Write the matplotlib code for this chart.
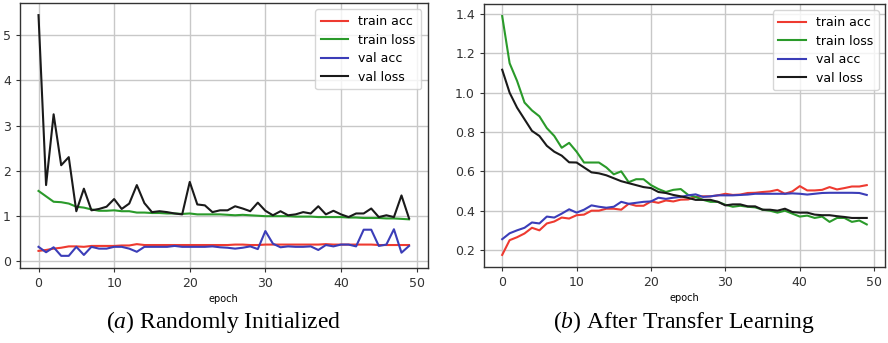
import matplotlib.pyplot as plt
import numpy as np

plt.rcParams['mathtext.fontset'] = 'custom'
plt.rcParams['mathtext.rm'] = 'Liberation Serif'
plt.rcParams['mathtext.it'] = 'Liberation Serif:italic'

## Data : values, one point per epoch (0..49)

epochs = np.arange(50)

# (a) randomly initialized
a_train_acc = [0.22, 0.24, 0.27, 0.29, 0.32, 0.32, 0.31, 0.33, 0.33, 0.33,
               0.33, 0.34, 0.34, 0.37, 0.35, 0.35, 0.35, 0.35, 0.35, 0.35,
               0.35, 0.35, 0.35, 0.35, 0.35, 0.35, 0.36, 0.36, 0.35, 0.35,
               0.36, 0.36, 0.36, 0.36, 0.36, 0.36, 0.36, 0.36, 0.37, 0.36,
               0.36, 0.36, 0.36, 0.36, 0.36, 0.35, 0.35, 0.35, 0.35, 0.35]
a_train_loss = [1.55, 1.43, 1.31, 1.30, 1.27, 1.20, 1.18, 1.14, 1.11, 1.11,
                1.12, 1.10, 1.10, 1.07, 1.07, 1.06, 1.06, 1.05, 1.05, 1.04,
                1.05, 1.03, 1.03, 1.03, 1.03, 1.02, 1.01, 1.02, 1.01, 1.00,
                0.99, 0.99, 0.99, 0.99, 0.98, 0.98, 0.98, 0.97, 0.97, 0.97,
                0.97, 0.96, 0.96, 0.95, 0.95, 0.95, 0.94, 0.94, 0.93, 0.92]
a_val_acc = [0.31, 0.19, 0.30, 0.11, 0.11, 0.31, 0.13, 0.31, 0.27, 0.27,
             0.31, 0.31, 0.27, 0.20, 0.31, 0.31, 0.31, 0.31, 0.33, 0.31,
             0.31, 0.31, 0.31, 0.32, 0.30, 0.29, 0.27, 0.29, 0.32, 0.26,
             0.66, 0.38, 0.30, 0.32, 0.31, 0.31, 0.32, 0.24, 0.35, 0.32,
             0.36, 0.36, 0.32, 0.69, 0.69, 0.33, 0.36, 0.70, 0.18, 0.33]
a_val_loss = [5.45, 1.68, 3.25, 2.12, 2.30, 1.10, 1.60, 1.12, 1.15, 1.20,
              1.37, 1.15, 1.27, 1.68, 1.28, 1.08, 1.10, 1.08, 1.05, 1.03,
              1.75, 1.25, 1.23, 1.08, 1.12, 1.12, 1.21, 1.16, 1.10, 1.29,
              1.11, 1.01, 1.10, 1.01, 1.03, 1.08, 1.05, 1.21, 1.03, 1.11,
              1.03, 0.97, 1.05, 1.05, 1.16, 0.97, 1.01, 0.97, 1.45, 0.94]

# (b) after transfer learning
b_train_acc = [0.175, 0.25, 0.265, 0.284, 0.313, 0.30, 0.335, 0.345, 0.365, 0.36,
               0.377, 0.38, 0.40, 0.40, 0.41, 0.41, 0.405, 0.435, 0.425, 0.425,
               0.447, 0.44, 0.452, 0.447, 0.456, 0.457, 0.47, 0.473, 0.473, 0.478,
               0.486, 0.48, 0.482, 0.49, 0.491, 0.495, 0.498, 0.506, 0.486, 0.498,
               0.525, 0.503, 0.503, 0.506, 0.52, 0.508, 0.515, 0.523, 0.523, 0.53]
b_train_loss = [1.39, 1.15, 1.06, 0.95, 0.91, 0.88, 0.82, 0.78, 0.72, 0.745,
                0.70, 0.645, 0.645, 0.645, 0.62, 0.585, 0.60, 0.545, 0.56, 0.56,
                0.53, 0.51, 0.495, 0.506, 0.51, 0.48, 0.47, 0.455, 0.445, 0.445,
                0.43, 0.42, 0.425, 0.42, 0.417, 0.405, 0.40, 0.39, 0.40, 0.385,
                0.37, 0.375, 0.363, 0.37, 0.343, 0.363, 0.363, 0.343, 0.35, 0.33]
b_val_acc = [0.255, 0.285, 0.30, 0.313, 0.34, 0.335, 0.37, 0.365, 0.385, 0.407,
             0.39, 0.405, 0.427, 0.42, 0.415, 0.42, 0.445, 0.435, 0.44, 0.445,
             0.447, 0.466, 0.46, 0.466, 0.47, 0.478, 0.483, 0.47, 0.473, 0.478,
             0.478, 0.478, 0.48, 0.482, 0.486, 0.486, 0.486, 0.486, 0.486, 0.488,
             0.486, 0.482, 0.486, 0.49, 0.491, 0.491, 0.491, 0.491, 0.49, 0.48]
b_val_loss = [1.117, 1.0, 0.924, 0.865, 0.806, 0.78, 0.73, 0.70, 0.68, 0.646,
              0.645, 0.62, 0.595, 0.59, 0.58, 0.565, 0.55, 0.54, 0.53, 0.52,
              0.515, 0.495, 0.49, 0.48, 0.473, 0.465, 0.455, 0.455, 0.455, 0.445,
              0.427, 0.432, 0.432, 0.422, 0.422, 0.405, 0.405, 0.40, 0.41, 0.393,
              0.39, 0.39, 0.38, 0.377, 0.377, 0.372, 0.368, 0.363, 0.363, 0.363]

labels = ['train acc', 'train loss', 'val acc', 'val loss']
colors = ['#ee3a30', '#2a9a2a', '#3b3db8', '#1a1a1a']
captions = ['Randomly Initialized', 'After Transfer Learning']
letters = ['a', 'b']

##--------------------------------------------------------------------------------------------------------------##

fig = plt.figure(figsize=(8.88, 3.43), dpi=100)
ax_a = fig.add_axes([0.0225, 0.219, 0.459, 0.772])
ax_b = fig.add_axes([0.545, 0.222, 0.4516, 0.766])

panels = [(ax_a, [a_train_acc, a_train_loss, a_val_acc, a_val_loss]),
          (ax_b, [b_train_acc, b_train_loss, b_val_acc, b_val_loss])]

for i, (ax, series) in enumerate(panels):
    for ys, lab, col in zip(series, labels, colors):
        ax.plot(epochs, ys, color=col, lw=1.5, label=lab)
    ax.grid(True, color='#c8c8c8', lw=1.0)
    ax.set_axisbelow(True)
    ax.set_xticks(range(0, 51, 10))
    ax.tick_params(labelsize=9, colors='#333333', length=3)
    for s in ax.spines.values():
        s.set_color('#333333')
        s.set_linewidth(1.0)
    ax.set_xlabel('epoch', fontsize=7, labelpad=3)
    ax.legend(loc='upper right', fontsize=9, handlelength=2.2, borderpad=0.45,
              labelspacing=0.45, framealpha=0.8)
    # caption below each panel
    bb = ax.get_position()
    fig.text((bb.x0 + bb.x1) / 2, 0.06,
             r'($\mathit{' + letters[i] + r'}$) ' + captions[i],
             ha='center', va='center', fontsize=17, family='Liberation Serif')

ax_a.set_yticks(range(0, 6))
ax_b.set_yticks(np.arange(0.2, 1.41, 0.2))
ax_b.set_yticklabels(['0.2', '0.4', '0.6', '0.8', '1.0', '1.2', '1.4'])

fig.savefig('out.png', dpi=100)
